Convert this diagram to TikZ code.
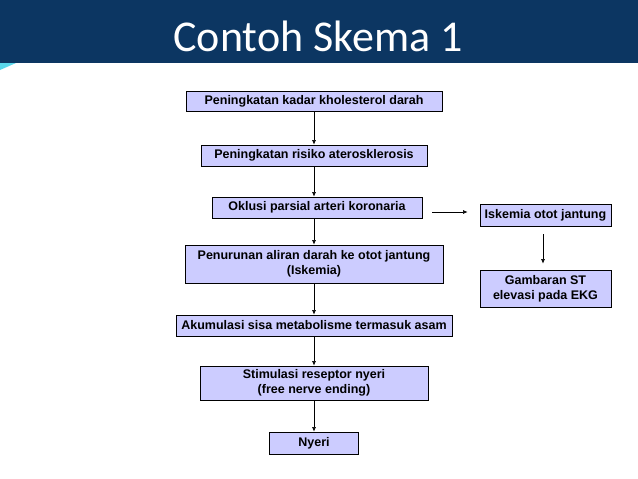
\documentclass[tikz,border=0pt]{standalone}
\usepackage{fontspec}
\setmainfont{Liberation Sans}
\newfontfamily\titlefont{Carlito}
\usetikzlibrary{arrows.meta}

\definecolor{titlebar}{RGB}{12,54,98}
\definecolor{boxfill}{RGB}{204,204,255}
\definecolor{sliver}{RGB}{90,215,235}

\tikzset{
  kotak/.style={draw=black, line width=0.8pt, fill=boxfill, inner sep=0pt,
    align=center, font=\fontsize{12.5}{15}\selectfont\bfseries},
  panah/.style={-{Latex[length=4.5pt,width=4pt]}, line width=0.6pt}
}

\begin{document}
\begin{tikzpicture}[x=1pt,y=-1pt]
  \useasboundingbox (0,0) rectangle (638,479);

  % 1. judul
  \fill[titlebar] (0,0) rectangle (638,63);
  \fill[sliver] (0,63) -- (16,63) -- (0,70) -- cycle;
  \node[text=white, font=\titlefont\fontsize{44}{50}\selectfont, anchor=base] (judul) at (318,52) {Contoh Skema 1};

  % 2. alur utama
  \node[kotak, minimum width=256pt, minimum height=20pt] (b1) at (314,101) {Peningkatan kadar kholesterol darah};
  \node[kotak, minimum width=226pt, minimum height=21pt] (b2) at (314,155.5) {Peningkatan risiko aterosklerosis};
  \node[kotak, minimum width=210pt, minimum height=21pt] (b3) at (317,207.5) {Oklusi parsial arteri koronaria};
  \node[kotak, minimum width=258pt, minimum height=38pt] (b4) at (314,264) {Penurunan aliran darah ke otot jantung\\(Iskemia)};
  \node[kotak, minimum width=276pt, minimum height=21pt] (b5) at (314,325.5) {Akumulasi sisa metabolisme termasuk asam};
  \node[kotak, minimum width=228pt, minimum height=34pt] (b6) at (314,383) {Stimulasi reseptor nyeri\\(free nerve ending)};
  \node[kotak, minimum width=89pt, minimum height=22pt] (b7) at (314,443) {Nyeri};

  % 3. cabang kanan
  \node[kotak, minimum width=131pt, minimum height=22pt] (ka) at (545.5,215) {Iskemia otot jantung};
  \node[kotak, minimum width=131pt, minimum height=37pt] (kb) at (545.5,288.5) {Gambaran ST\\elevasi pada EKG};

  \draw[panah] (b1) -- (b2);
  \draw[panah] (b2) -- (b2 |- b3.north);
  \draw[panah] (b3.south -| b2) -- (b4);
  \draw[panah] (b4) -- (b5);
  \draw[panah] (b5) -- (b6);
  \draw[panah] (b6) -- (b7);
  \draw[panah, shorten <=10pt, shorten >=12pt] (b3.east |- 0,212) -- (ka.west |- 0,212);
  \draw[panah, shorten <=8pt, shorten >=6pt] (ka.south -| 543,0) -- (kb.north -| 543,0);
\end{tikzpicture}
\end{document}
